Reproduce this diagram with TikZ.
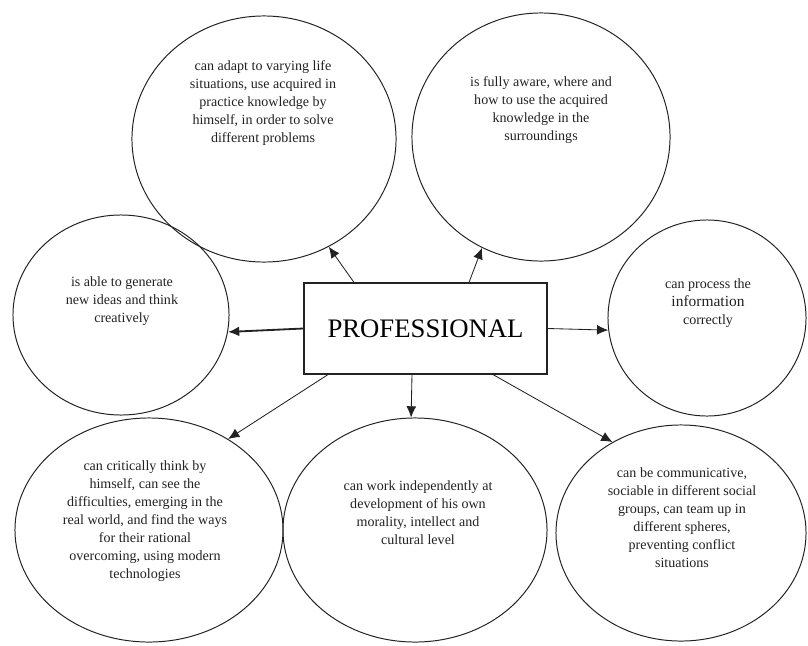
\documentclass[tikz,border=0pt]{standalone}
\usepackage{fontspec}
\setmainfont{Liberation Serif}
\usetikzlibrary{arrows.meta, positioning, shapes.geometric, calc}
\definecolor{pfink}{HTML}{222222}

\begin{document}
\begin{tikzpicture}[x=0.025cm, y=-0.025cm,
  every node/.style={font=\fontsize{10}{12.8}\selectfont},
  oval/.style={ellipse, draw=pfink, line width=0.7pt, inner sep=0pt},
  note/.style={align=center, text=pfink, inner sep=0pt},
  mainbox/.style={rectangle, draw=pfink, line width=0.8pt, minimum width=6.075cm, minimum height=2.275cm, font=\fontsize{19}{22}\selectfont},
  link/.style={draw=pfink, line width=0.6pt, -{Latex[length=8pt, width=7pt]}},
]
\useasboundingbox (0,0) rectangle (808,645);

% centre
\node[mainbox] (prof) at (425.5,328.5) {PROFESSIONAL};

% ovals
\node[oval, minimum width=6.6cm, minimum height=6.15cm] (adapt) at (264,139) {};
\node[oval, minimum width=6.45cm, minimum height=6.2cm] (aware) at (541,137) {};
\node[oval, minimum width=5.4cm, minimum height=5.0cm] (ideas) at (121,315) {};
\node[oval, minimum width=4.95cm, minimum height=4.9cm] (info) at (707,318) {};
\node[oval, minimum width=6.7cm, minimum height=5.6cm] (crit) at (149,530) {};
\node[oval, minimum width=6.6cm, minimum height=5.6cm] (work) at (415,530) {};
\node[oval, minimum width=6.25cm, minimum height=5.4cm] (comm) at (681,533) {};

% texts
\node[note] (adapttxt) at (263,103) {can adapt to varying life\\situations, use acquired in\\practice knowledge by\\himself, in order to solve\\different problems};
\node[note] (awaretxt) at (541,110) {is fully aware, where and\\how to use the acquired\\knowledge in the\\surroundings};
\node[note] (ideastxt) at (122,301) {is able to generate\\new ideas and think\\creatively};
\node[note] (infotxt) at (708,303) {can process the\\{\fontsize{11}{12.8}\selectfont information}\\correctly};
\node[note] (crittxt) at (145,521) {can critically think by\\himself, can see the\\difficulties, emerging in the\\real world, and find the ways\\for their rational\\overcoming, using modern\\technologies};
\node[note] (worktxt) at (418,513) {can work independently at\\development of his own\\morality, intellect and\\cultural level};
\node[note] (commtxt) at (682,518) {can be communicative,\\sociable in different social\\groups, can team up in\\different spheres,\\preventing conflict\\situations};

% arrows
\draw[link] ($(prof.north)+(-71.5,0)$) -- (adapt.301);
\draw[link] ($(prof.north)+(43.5,0)$) -- (aware.242);
\draw[link, line width=1.3pt] (prof.west) -- (ideas.351);
\draw[link] (prof.east) -- (info.187);
\draw[link] ($(prof.south)+(-97.5,0)$) -- (crit.49);
\draw[link] ($(prof.south)+(-13.5,0)$) -- (work.92);
\draw[link] ($(prof.south)+(67.5,0)$) -- (comm.127);
\end{tikzpicture}
\end{document}
